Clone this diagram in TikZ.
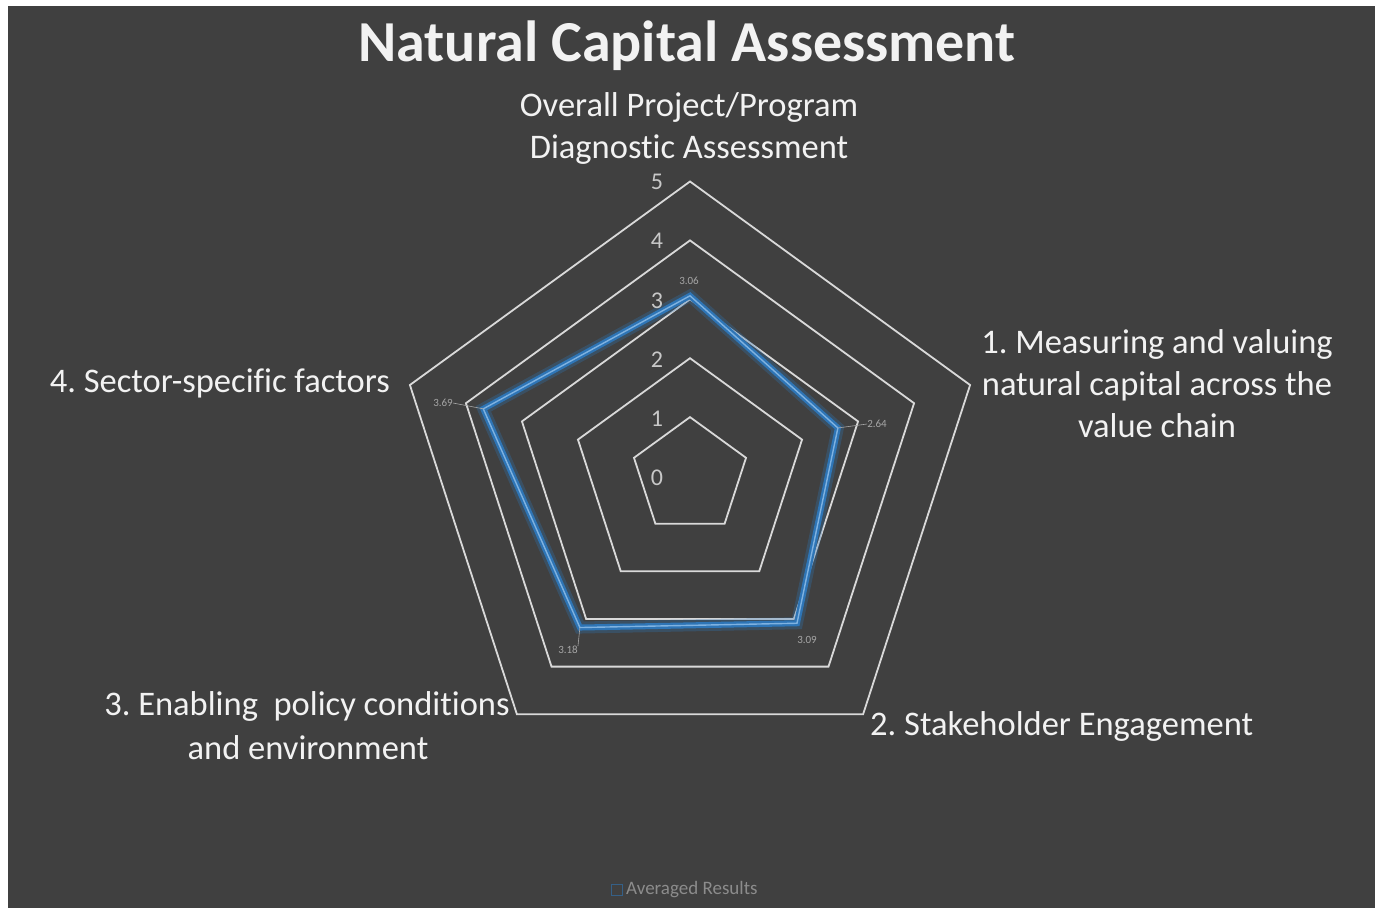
\documentclass[tikz,border=0pt]{standalone}
\usepackage{fontspec}
\setmainfont{Carlito}[Ligatures={NoCommon}]
\frenchspacing
\begin{document}
\begin{tikzpicture}[x=1pt,y=-1pt,
  gridline/.style={draw=gridc,line width=1.8pt,line join=miter},
  ticklbl/.style={text=tickc,font=\fontsize{24}{28}\selectfont,inner sep=0pt},
  catlbl/.style={text=catc,font=\fontsize{34.5}{42}\selectfont,align=center,inner sep=0pt},
  datalbl/.style={text=datac,font=\fontsize{11}{13}\selectfont,inner sep=0pt},
  leader/.style={draw=datac,line width=0.6pt}]
\definecolor{bgc}{HTML}{404040}
\definecolor{gridc}{HTML}{D9D9D9}
\definecolor{tickc}{HTML}{C8C8C8}
\definecolor{catc}{HTML}{F2F2F2}
\definecolor{datac}{HTML}{A6A6A6}
\definecolor{serc}{HTML}{2E75B6}
\definecolor{serl}{HTML}{7FB2E0}
\definecolor{legc}{HTML}{8C8C8C}
\useasboundingbox (0,0) rectangle (1375,908);
\fill[white] (0,0) rectangle (1375,908);
\fill[bgc] (8,6) rectangle (1375,908);
% title
\node[text=catc,font=\bfseries\fontsize{58}{66}\selectfont,inner sep=0pt] (title) at (687,46) {Natural Capital Assessment};
% grid
\begin{scope}[shift={(690,476)}]
\foreach \k in {1,...,5}{
  \draw[gridline] (-90:\k*58.9) -- (-18:\k*58.9) -- (54:\k*58.9) -- (126:\k*58.9) -- (198:\k*58.9) -- cycle;
}
\coordinate (p0) at (-90:3.06*58.9);
\coordinate (p1) at (-18:2.64*58.9);
\coordinate (p2) at (54:3.09*58.9);
\coordinate (p3) at (126:3.18*58.9);
\coordinate (p4) at (198:3.69*58.9);
\draw[serc,opacity=0.3,line width=12pt,line join=miter] (p0) -- (p1) -- (p2) -- (p3) -- (p4) -- cycle;
\draw[serc,line width=6pt,line join=miter] (p0) -- (p1) -- (p2) -- (p3) -- (p4) -- cycle;
\draw[serl,line width=1.4pt,line join=miter] (p0) -- (p1) -- (p2) -- (p3) -- (p4) -- cycle;
\end{scope}
% tick labels
\foreach \k in {0,...,5}{
  \node[ticklbl] (t\k) at (657,{478-\k*59.2}) {\k};
}
% data labels
\node[datalbl] (d0) at (689,281) {3.06};
\node[datalbl] (d1) at (877,424) {2.64};
\node[datalbl] (d2) at (807,640) {3.09};
\node[datalbl] (d3) at (568,650) {3.18};
\node[datalbl] (d4) at (443,403) {3.69};
\draw[leader] (p1) -- (d1.west);
\draw[leader] (d4.east) -- (p4);
\draw[leader] (p3) -- (d3.north east);
% category labels
\node[catlbl] (c0) at (689,128) {Overall Project/Program\\Diagnostic Assessment};
\node[catlbl] (c1) at (1157,384) {1. Measuring and valuing\\natural capital across the\\value chain};
\node[catlbl,anchor=east] (c4) at (390,383) {4. Sector-specific factors};
\node[catlbl,anchor=east] (c3a) at (510,706) {3. Enabling\ \ policy conditions};
\node[catlbl] (c3b) at (308,748) {and environment};
\node[catlbl,anchor=west] (c2) at (870,726) {2. Stakeholder Engagement};
% legend
\draw[serc!60!bgc,line width=0.8pt] (611,884) rectangle (622,895) coordinate (legbox);
\node[text=legc,font=\fontsize{19}{22}\selectfont,anchor=west,inner sep=0pt] (leg) at (626,890) {Averaged Results};
\end{tikzpicture}
\end{document}
